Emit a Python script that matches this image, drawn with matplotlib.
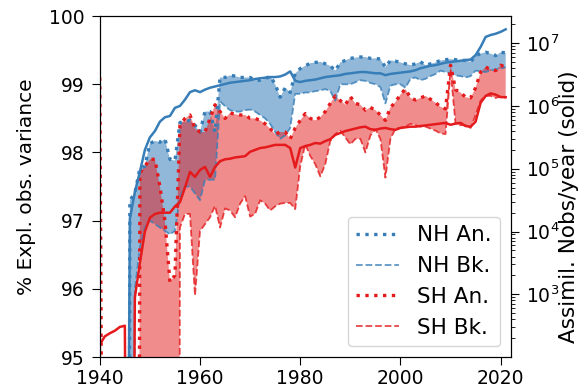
import numpy as np
import matplotlib
matplotlib.use("Agg")
import matplotlib.pyplot as plt

# annual values, 1940..2021 ; values far below the axis stand for "no data / tiny"
years = np.arange(1940, 2022)

nh_an = [60, 60, 60, 60, 60, 60, 97.3, 97.4, 97.77, 97.8,
         98.13, 98.17, 98.15, 98.2, 97.9, 97.88, 98.44, 98.45, 98.47, 98.4,
         98.3, 98.6, 98.6, 98.3, 99.1, 99.1, 99.13, 99.12, 99.1, 99.1,
         99.1, 99.06, 99.06, 99.08, 99.12, 99.0, 98.81, 98.95, 98.88, 99.16,
         99.23, 99.27, 99.31, 99.32, 99.33, 99.3, 99.27, 99.2, 99.32, 99.35,
         99.38, 99.39, 99.4, 99.4, 99.38, 99.38, 99.37, 99.25, 99.35, 99.34,
         99.32, 99.3, 99.28, 99.3, 99.33, 99.28, 99.3, 99.32, 99.35, 99.36,
         99.37, 99.36, 99.35, 99.35, 99.33, 99.42, 99.45, 99.47, 99.45, 99.42,
         99.47, 99.46]
nh_bk = [60, 60, 60, 60, 60, 60, 60, 96.0, 96.6, 96.9,
         97.0, 96.95, 96.9, 96.85, 96.8, 96.85, 97.35, 97.5, 97.5, 97.4,
         97.3, 97.6, 97.6, 97.6, 98.75, 98.68, 98.62, 98.6, 98.6, 98.62,
         98.63, 98.6, 98.55, 98.5, 98.42, 98.3, 98.2, 98.25, 98.36, 98.86,
         98.86, 98.88, 98.88, 98.9, 98.91, 98.93, 98.9, 98.76, 99.0, 99.0,
         99.0, 99.03, 99.06, 99.05, 99.02, 99.0, 98.96, 98.72, 98.98, 99.0,
         99.0, 98.95, 99.08, 99.1, 99.06, 99.08, 99.12, 99.15, 99.2, 99.18,
         99.16, 99.13, 99.12, 99.1, 99.12, 99.2, 99.19, 99.18, 99.2, 99.22,
         99.23, 99.25]
sh_an = [99.1, 85, 60, 60, 60, 60, 60, 60, 97.7, 97.8,
         97.9, 97.9, 97.5, 97.0, 96.1, 96.2, 98.4, 98.5, 98.55, 98.35,
         98.3, 98.3, 98.5, 98.7, 98.6, 98.5, 98.58, 98.56, 98.55, 98.55,
         98.5, 98.5, 98.47, 98.42, 98.35, 98.27, 98.3, 98.3, 98.2, 98.36,
         98.47, 98.57, 98.5, 98.47, 98.52, 98.6, 98.72, 98.83, 98.76, 98.7,
         98.82, 98.72, 98.7, 98.62, 98.66, 98.62, 98.55, 98.47, 98.66, 98.74,
         98.85, 98.93, 98.8, 98.77, 98.8, 98.83, 98.78, 98.73, 98.67, 98.64,
         99.28, 98.92, 98.88, 98.81, 98.8, 98.95, 99.18, 99.25, 99.22, 99.2,
         99.28, 99.25]
sh_bk = [60, 60, 60, 60, 60, 60, 60, 60, 60, 60,
         60, 60, 60, 60, 60, 60, 96.9, 97.1, 97.1, 95.9,
         96.85, 96.95, 97.05, 97.22, 96.9, 97.18, 97.15, 97.05, 97.25, 97.36,
         97.06, 97.1, 97.3, 97.25, 97.15, 97.21, 97.25, 97.26, 97.26, 97.17,
         97.8, 98.12, 97.95, 97.83, 97.65, 97.83, 98.17, 98.27, 98.32, 98.22,
         98.12, 98.2, 98.2, 98.0, 98.25, 98.34, 98.2, 97.63, 98.2, 98.35,
         98.36, 98.38, 98.42, 98.4, 98.38, 98.38, 98.35, 98.32, 98.28, 98.27,
         99.2, 98.42, 98.4, 98.4, 98.36, 98.55, 98.76, 98.83, 98.83, 98.8,
         98.82, 98.8]

# assimilated observations per year (log10 of count)
nh_nobs_log = [-9, -9, -9, -9, -9, -9, 4.2, 4.63, 4.95, 5.3,
               5.5, 5.6, 5.75, 5.82, 5.84, 5.97, 6.0, 6.1, 6.22, 6.25,
               6.22, 6.26, 6.29, 6.31, 6.33, 6.35, 6.37, 6.38, 6.39, 6.4,
               6.41, 6.43, 6.44, 6.45, 6.46, 6.46, 6.47, 6.5, 6.55, 6.4,
               6.38, 6.4, 6.41, 6.42, 6.44, 6.46, 6.47, 6.48, 6.49, 6.51,
               6.52, 6.53, 6.54, 6.54, 6.53, 6.52, 6.52, 6.49, 6.51, 6.52,
               6.53, 6.54, 6.55, 6.57, 6.6, 6.62, 6.64, 6.65, 6.67, 6.69,
               6.7, 6.71, 6.72, 6.73, 6.74, 6.81, 6.94, 7.1, 7.13, 7.15,
               7.18, 7.22]
sh_nobs_log = [2.2, 2.33, 2.38, 2.42, 2.48, 2.5, -9, 2.95, 3.5, 4.0,
               4.22, 4.28, 4.3, 4.3, 4.3, 4.4, 4.47, 4.7, 4.95, 4.87,
               4.98, 5.03, 4.87, 5.03, 5.12, 5.15, 5.16, 5.18, 5.19, 5.2,
               5.27, 5.3, 5.33, 5.34, 5.36, 5.38, 5.38, 5.38, 5.33, 5.02,
               5.33, 5.36, 5.38, 5.41, 5.4, 5.44, 5.47, 5.54, 5.57, 5.6,
               5.62, 5.64, 5.66, 5.67, 5.63, 5.62, 5.64, 5.65, 5.63, 5.62,
               5.65, 5.66, 5.67, 5.67, 5.68, 5.69, 5.7, 5.71, 5.72, 5.73,
               5.7, 5.72, 5.73, 5.68, 5.67, 5.75, 6.05, 6.16, 6.2, 6.18,
               6.14, 6.14]

c_nh = "#377eb8"
c_sh = "#e41a1c"


def main():
    plt.rcParams["font.size"] = 13.5
    plt.rcParams["xtick.major.size"] = 5.5
    plt.rcParams["ytick.major.size"] = 5.5
    plt.rcParams["ytick.minor.size"] = 3
    plt.rcParams["xtick.major.pad"] = 3
    plt.rcParams["ytick.major.pad"] = 5.5
    fig = plt.figure(figsize=(5.87, 3.92), dpi=100)
    ax = fig.add_axes([0.170, 0.089, 0.700, 0.870])

    ax.fill_between(years, nh_an, nh_bk, color=c_nh, alpha=0.55, lw=0)
    ax.plot(years, nh_an, ls=":", lw=2.4, color=c_nh, label="NH An.")
    ax.plot(years, nh_bk, ls="--", lw=1.3, color=c_nh, alpha=0.8, label="NH Bk.")
    ax.fill_between(years, sh_an, sh_bk, color=c_sh, alpha=0.5, lw=0)
    ax.plot(years, sh_an, ls=":", lw=2.4, color=c_sh, label="SH An.")
    ax.plot(years, sh_bk, ls="--", lw=1.3, color=c_sh, alpha=0.8, label="SH Bk.")

    ax.set_xlim(1940, 2022)
    ax.set_ylim(95, 100)
    ax.set_xticks([1940, 1960, 1980, 2000, 2020])
    ax.set_yticks([95, 96, 97, 98, 99, 100])
    ax.set_ylabel("% Expl. obs. variance", fontsize=14.5)
    ax.yaxis.set_label_coords(-0.155, 0.5)
    ax.legend(loc="lower right", fontsize=15.5)

    ax2 = ax.twinx()
    ax2.set_yscale("log")
    ax2.plot(years, 10.0 ** np.array(nh_nobs_log), color=c_nh, lw=1.8)
    ax2.plot(years, 10.0 ** np.array(sh_nobs_log), color=c_sh, lw=1.8)
    ax2.set_ylim(1e2, 2.7e7)
    ax2.set_yticks([1e3, 1e4, 1e5, 1e6, 1e7])
    ax2.set_ylabel("Assimil. Nobs/year (solid)", fontsize=15.5)
    ax2.yaxis.set_label_coords(1.118, 0.44)

    fig.savefig("out.png", dpi=100)


if __name__ == "__main__":
    main()
